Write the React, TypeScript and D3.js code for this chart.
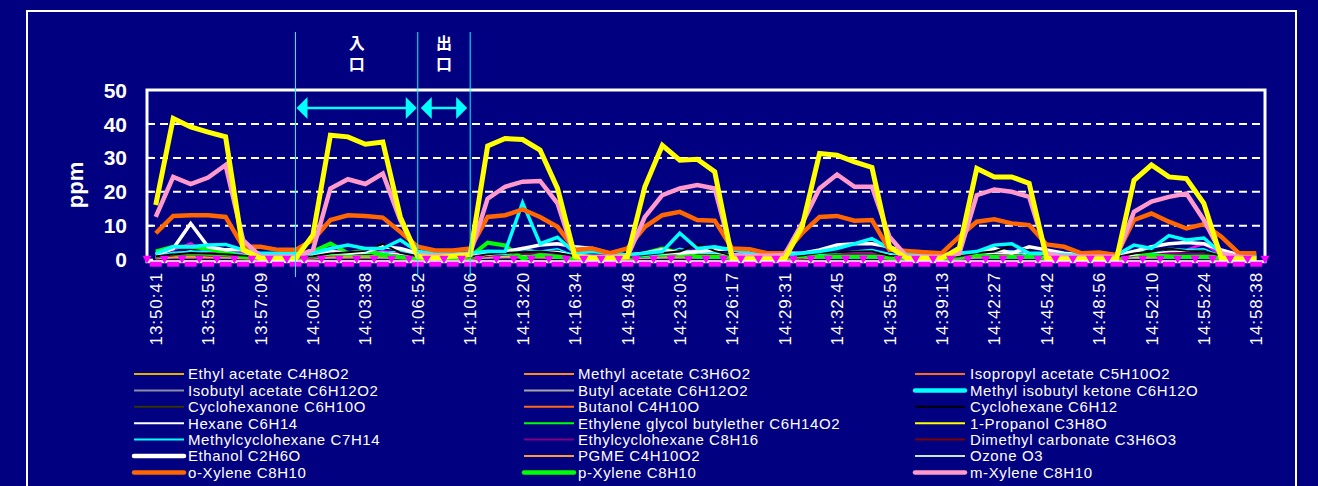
import { useEffect, useRef } from "react"
import * as d3 from "d3"

// x categories: 64 samples, a tick label on every 3rd one
const sampleCount = 64
const tickLabels = [
  "13:50:41", "13:53:55", "13:57:09", "14:00:23", "14:03:38", "14:06:52",
  "14:10:06", "14:13:20", "14:16:34", "14:19:48", "14:23:03", "14:26:17",
  "14:29:31", "14:32:45", "14:35:59", "14:39:13", "14:42:27", "14:45:42",
  "14:48:56", "14:52:10", "14:55:24", "14:58:38",
]
const yTicks = [0, 10, 20, 30, 40, 50]

// entrance / exit markers (sample index)
const markerIdx = [8, 15, 18]
const markerText = ["入口", "出口"]

const ethylAcetate = [0.4,0.7,0.8,0.7,0.7,0.4,0.2,0.2,0.2,0.4,0.7,0.8,0.7,0.7,0.5,0.2,0.2,0.2,0.3,0.7,0.8,0.8,0.7,0.6,0.2,0.2,0.2,0.3,0.6,0.7,0.8,0.7,0.7,0.3,0.2,0.2,0.2,0.4,0.7,0.8,0.7,0.7,0.3,0.2,0.2,0.2,0.3,0.7,0.7,0.8,0.7,0.3,0.2,0.2,0.2,0.2,0.6,0.7,0.8,0.7,0.6,0.3,0.2,0.2]
const methylAcetate = [0.6,1.0,1.1,1.0,0.9,0.5,0.3,0.3,0.3,0.6,1.0,1.1,1.0,1.0,0.6,0.3,0.3,0.3,0.4,1.0,1.1,1.2,1.0,0.8,0.3,0.3,0.3,0.4,0.8,1.0,1.1,1.0,0.9,0.3,0.3,0.3,0.3,0.6,1.0,1.0,1.0,0.9,0.4,0.3,0.3,0.3,0.4,0.9,1.0,1.0,0.9,0.4,0.3,0.3,0.3,0.3,0.8,1.0,1.0,0.9,0.8,0.4,0.3,0.3]
const isopropylAcetate = [0.3,0.5,0.6,0.5,0.5,0.3,0.2,0.2,0.2,0.3,0.5,0.6,0.5,0.5,0.3,0.2,0.2,0.2,0.2,0.5,0.6,0.6,0.5,0.4,0.2,0.2,0.2,0.2,0.4,0.5,0.6,0.5,0.5,0.2,0.2,0.2,0.2,0.3,0.5,0.5,0.5,0.5,0.2,0.2,0.2,0.2,0.3,0.5,0.5,0.5,0.5,0.2,0.2,0.2,0.2,0.2,0.4,0.5,0.5,0.5,0.4,0.2,0.2,0.2]
const isobutylAcetate = [0.5,0.9,1.2,0.9,0.8,0.5,0.3,0.3,0.3,0.4,0.8,0.9,0.9,0.8,0.5,0.3,0.3,0.3,0.3,0.8,0.9,1.0,0.9,0.7,0.3,0.3,0.3,0.3,0.6,0.8,0.9,0.8,0.8,0.3,0.3,0.3,0.3,0.5,0.8,0.9,0.8,0.8,0.4,0.3,0.3,0.3,0.3,0.8,0.8,0.8,0.8,0.3,0.3,0.3,0.3,0.3,0.7,0.8,0.8,0.8,0.7,0.3,0.3,0.3]
const butylAcetate = [0.4,0.7,0.9,0.7,0.6,0.4,0.2,0.2,0.2,0.3,0.6,0.7,0.7,0.6,0.4,0.2,0.2,0.2,0.2,0.6,0.7,0.8,0.7,0.5,0.2,0.2,0.2,0.2,0.5,0.6,0.7,0.6,0.6,0.2,0.2,0.2,0.2,0.4,0.6,0.7,0.6,0.6,0.3,0.2,0.2,0.2,0.2,0.6,0.6,0.6,0.6,0.2,0.2,0.2,0.2,0.2,0.5,0.6,0.6,0.6,0.5,0.2,0.2,0.2]
const mibk = [1.8,3.8,3.8,4.3,4.5,2.9,1.9,1.9,1.9,2.0,3.3,4.3,3.3,3.3,5.8,2.4,1.9,1.9,1.9,2.5,2.4,16.8,4.7,6.6,1.9,2.4,1.9,1.4,1.9,2.4,7.8,3.3,3.8,2.9,1.9,1.4,1.4,1.9,2.4,3.3,4.7,6.2,3.3,1.9,1.4,1.4,1.9,2.4,4.3,4.7,1.9,1.9,1.4,1.4,1.4,1.4,4.3,3.3,7.1,5.8,6.4,1.9,0.9,0.9]
const cyclohexanone = [0.6,1.1,1.4,1.1,1.0,0.6,0.4,0.4,0.4,0.6,1.0,1.1,1.1,1.0,0.6,0.4,0.4,0.4,0.4,1.0,1.1,1.2,1.1,0.9,0.4,0.4,0.4,0.4,0.8,1.0,1.1,1.0,1.0,0.4,0.4,0.4,0.4,0.6,1.0,1.1,1.0,1.0,0.5,0.4,0.4,0.4,0.4,1.0,1.0,1.0,1.0,0.4,0.4,0.4,0.4,0.4,0.9,1.0,1.0,1.0,0.9,0.4,0.4,0.4]
const butanol = [0.8,1.3,1.5,1.4,1.3,0.7,0.5,0.5,0.5,0.8,1.3,1.4,1.4,1.3,0.8,0.5,0.5,0.5,0.6,1.3,1.4,1.5,1.4,1.1,0.5,0.5,0.5,0.6,1.1,1.3,1.4,1.3,1.2,0.5,0.5,0.5,0.5,0.8,1.3,1.3,1.3,1.2,0.6,0.5,0.5,0.5,0.6,1.2,1.3,1.3,1.2,0.6,0.5,0.5,0.5,0.5,1.1,1.3,1.3,1.2,1.1,0.6,0.5,0.5]
const cyclohexane = [1.0,1.5,2.0,1.8,1.6,1.2,0.8,0.8,0.8,1.0,1.8,2.2,2.6,4.7,2.0,1.0,0.8,0.8,0.8,1.6,2.0,2.2,2.4,2.0,1.0,0.8,0.8,0.8,1.4,2.0,2.4,4.5,2.6,1.2,0.8,0.8,0.8,1.2,2.0,2.2,2.4,2.4,1.2,0.8,0.8,0.8,1.0,2.0,2.4,4.2,2.6,1.2,0.8,0.8,0.8,0.8,1.8,2.4,3.3,2.6,2.4,1.2,0.8,0.8]
const hexane = [1.0,1.6,2.2,1.8,1.6,1.2,0.8,0.8,0.8,1.0,1.6,1.8,1.9,2.2,1.6,0.9,0.8,0.8,0.8,1.4,1.8,2.2,2.6,2.4,1.6,1.2,0.8,0.8,1.2,1.6,1.8,2.0,2.0,1.4,0.8,0.8,0.8,1.0,1.6,2.2,2.4,2.4,1.6,0.8,0.8,0.8,1.0,1.6,2.0,1.8,2.0,1.4,0.8,0.8,0.8,0.8,1.4,2.0,2.4,2.6,2.4,1.2,0.8,0.8]
const egbe = [0.8,1.4,1.6,1.4,1.2,0.6,0.4,0.4,0.4,0.8,1.4,1.2,1.2,1.0,0.6,0.4,0.4,0.4,0.5,1.4,1.6,1.0,1.0,0.8,0.4,0.4,0.4,0.4,0.9,1.2,1.0,0.9,0.9,0.4,0.4,0.4,0.4,0.7,1.0,1.0,0.9,0.9,0.5,0.4,0.4,0.4,0.5,1.0,0.9,0.9,0.9,0.4,0.4,0.4,0.4,0.4,1.2,1.0,0.9,0.9,0.8,0.5,0.4,0.4]
const propanol = [16.1,41.6,39.1,37.6,36.2,2.9,0.4,0.3,0.3,7.3,36.7,36.2,34.0,34.7,12.6,0.9,0.5,1.0,1.4,33.5,35.7,35.4,32.3,21.0,0.9,0.4,0.4,0.9,21.5,33.7,29.3,29.6,25.9,0.2,0.2,0.2,0.2,9.7,31.3,30.8,28.8,27.2,3.8,0.4,0.4,0.4,3.4,26.9,24.4,24.4,22.5,0.4,0.2,0.2,0.2,0.2,23.4,27.9,24.4,23.9,16.6,0.4,0.2,0.2]
const methylcyclohexane = [1.2,2.2,2.4,2.6,2.4,1.6,1.0,1.0,1.0,1.2,2.0,2.4,2.0,2.0,2.6,1.4,1.0,1.0,1.0,1.8,1.6,3.0,2.6,3.2,1.2,1.2,1.0,0.9,1.2,1.6,3.4,2.0,2.2,1.6,1.0,0.9,0.9,1.2,1.6,2.0,2.6,3.0,1.8,1.0,0.9,0.9,1.2,1.6,2.4,2.6,1.2,1.2,0.9,0.9,0.9,0.9,2.4,2.0,3.4,3.0,3.2,1.2,0.6,0.6]
const ethylcyclohexane = [0.6,1.2,1.6,1.2,1.0,0.7,0.4,0.4,0.4,0.6,1.2,1.4,1.8,2.2,1.0,0.5,0.4,0.4,0.4,1.0,1.4,1.6,1.6,1.2,0.5,0.4,0.4,0.4,0.9,1.2,1.6,2.4,1.8,0.8,0.4,0.4,0.4,0.6,1.2,1.4,1.6,1.6,0.8,0.4,0.4,0.4,0.6,1.2,1.6,2.2,1.6,0.8,0.4,0.4,0.4,0.4,1.0,1.6,2.0,1.8,1.6,0.8,0.4,0.4]
const dimethylCarbonate = [0.8,1.4,2.0,1.6,1.4,1.0,0.6,0.6,0.6,0.8,1.4,1.6,1.6,1.6,1.0,0.6,0.6,0.6,0.6,1.4,1.6,1.8,1.6,1.2,0.6,0.6,0.6,0.6,1.0,1.4,1.6,1.8,1.6,0.8,0.6,0.6,0.6,0.8,1.4,1.6,1.6,1.6,0.8,0.6,0.6,0.6,0.8,1.6,1.8,2.0,1.8,0.8,0.6,0.6,0.6,0.6,1.2,1.8,2.0,1.8,1.6,0.8,0.6,0.6]
const ethanol = [1.4,3.3,10.7,3.8,2.9,2.9,1.4,1.4,1.4,1.4,2.4,1.9,2.4,3.8,3.3,1.9,1.4,1.4,1.4,1.9,2.4,3.3,4.3,4.7,3.8,3.3,1.9,1.4,1.9,2.9,1.9,2.4,2.9,3.3,1.9,1.4,1.9,1.9,2.9,4.3,4.7,4.7,3.8,1.9,1.4,1.4,1.9,2.1,3.3,1.9,3.8,2.9,1.9,1.4,1.4,1.4,2.4,3.8,4.7,5.1,4.7,2.9,1.4,1.4]
const pgme = [0.5,0.8,1.0,0.8,0.8,0.4,0.3,0.3,0.3,0.5,0.8,0.9,0.8,0.8,0.5,0.3,0.3,0.3,0.3,0.8,0.9,0.9,0.8,0.6,0.3,0.3,0.3,0.3,0.6,0.8,0.9,0.8,0.8,0.3,0.3,0.3,0.3,0.5,0.8,0.8,0.8,0.8,0.4,0.3,0.3,0.3,0.4,0.8,0.8,0.8,0.8,0.3,0.3,0.3,0.3,0.3,0.7,0.8,0.8,0.8,0.7,0.4,0.3,0.3]
const ozone = [0.9,1.6,2.6,1.6,1.2,1.0,0.8,0.7,0.7,0.8,1.2,1.3,1.2,1.1,0.9,0.7,0.7,0.7,0.7,1.0,1.2,1.2,1.1,1.0,0.7,0.7,0.7,0.7,0.9,1.0,1.1,1.0,1.0,0.7,0.7,0.7,0.7,0.8,1.0,1.1,1.0,1.0,0.8,0.7,0.7,0.7,0.8,1.0,1.0,1.0,1.0,0.8,0.7,0.7,0.7,0.7,0.9,1.0,1.0,1.0,0.9,0.8,0.7,0.7]
const oXylene = [7.8,12.9,13.1,13.1,12.6,3.8,3.8,2.9,2.9,5.8,11.7,13.1,12.9,12.4,8.2,3.8,2.7,2.7,3.3,12.6,13.1,14.8,12.6,9.7,2.9,3.3,1.9,3.3,9.7,13.1,14.1,11.7,11.5,3.3,3.1,1.9,1.9,7.8,12.6,12.9,11.5,11.7,2.9,2.6,2.2,1.9,6.8,11.2,11.9,10.7,10.2,4.5,3.8,1.9,2.1,1.4,11.7,13.6,11.2,9.2,10.5,6.8,1.9,1.9]
const pXylene = [2.4,3.8,3.8,3.3,1.9,0.9,0.7,0.4,0.9,2.4,4.8,1.9,2.7,1.4,0.7,0.5,0.5,0.5,0.9,5.0,4.2,0.3,1.4,0.9,0.4,0.4,0.4,0.9,1.9,3.3,1.9,0.9,0.9,0.7,0.5,0.5,0.7,1.4,0.9,0.9,0.9,0.9,0.7,0.5,0.5,0.5,0.9,1.4,0.9,0.9,0.9,0.7,0.5,0.5,0.5,0.5,2.4,1.4,0.9,0.9,0.9,0.7,0.5,0.5]
const mXylene = [12.6,24.4,22.3,24.2,27.9,5.8,0.9,0.9,0.9,2.9,21.0,23.7,22.3,25.4,11.7,1.4,1.2,1.2,1.8,18.0,21.5,23.0,23.2,16.6,0.9,0.9,0.9,0.9,12.6,19.0,21.0,22.0,21.0,1.4,1.2,1.2,1.4,10.7,21.0,25.1,21.5,21.5,6.8,0.9,0.9,0.9,1.8,19.0,20.7,20.0,18.5,1.8,0.9,0.9,0.9,0.9,14.1,17.1,18.5,19.5,11.7,1.8,0.9,0.4]
// bright magenta trace (its legend entry is below the visible area)
const magentaTrace = [1.9,2.9,4.8,1.9,1.9,1.9,0.9,0.9,0.9,1.4,2.9,1.9,1.9,2.4,2.1,1.7,1.4,1.4,1.2,0.9,1.9,3.5,1.9,1.9,0.9,0.9,0.4,0.4,1.9,2.1,2.4,2.7,1.9,1.4,0.9,0.9,1.4,1.9,1.9,2.1,2.1,1.9,1.4,0.4,0.4,0.4,0.4,1.9,1.4,1.9,2.4,1.4,0.9,0.9,0.9,0.9,1.4,1.9,1.9,2.9,4.7,1.4,0.4,0.4]

interface Series {
  name: string
  values: number[]
  color: string
  width: number
  legendWidth: number
}

// legend order (row by row, 3 columns)
const series: Series[] = [
  { name: "Ethyl acetate C4H8O2", values: ethylAcetate, color: "#e6b000", width: 1.5, legendWidth: 2 },
  { name: "Methyl acetate C3H6O2", values: methylAcetate, color: "#ff8c1a", width: 1.5, legendWidth: 2 },
  { name: "Isopropyl acetate C5H10O2", values: isopropylAcetate, color: "#ff6a1a", width: 1.5, legendWidth: 2 },
  { name: "Isobutyl acetate C6H12O2", values: isobutylAcetate, color: "#8c8ca8", width: 1.5, legendWidth: 2 },
  { name: "Butyl acetate C6H12O2", values: butylAcetate, color: "#a6a6a6", width: 1.5, legendWidth: 2 },
  { name: "Methyl isobutyl ketone C6H12O", values: mibk, color: "#00ffff", width: 3.5, legendWidth: 4.5 },
  { name: "Cyclohexanone C6H10O", values: cyclohexanone, color: "#333300", width: 1.5, legendWidth: 2 },
  { name: "Butanol C4H10O", values: butanol, color: "#ff6a1a", width: 1.5, legendWidth: 2 },
  { name: "Cyclohexane C6H12", values: cyclohexane, color: "#000000", width: 2, legendWidth: 2 },
  { name: "Hexane C6H14", values: hexane, color: "#ffffff", width: 1.5, legendWidth: 2 },
  { name: "Ethylene glycol butylether C6H14O2", values: egbe, color: "#00ff00", width: 1.5, legendWidth: 2 },
  { name: "1-Propanol C3H8O", values: propanol, color: "#ffff00", width: 5, legendWidth: 2 },
  { name: "Methylcyclohexane C7H14", values: methylcyclohexane, color: "#00ffff", width: 1.5, legendWidth: 2 },
  { name: "Ethylcyclohexane C8H16", values: ethylcyclohexane, color: "#800080", width: 1.5, legendWidth: 2 },
  { name: "Dimethyl carbonate C3H6O3", values: dimethylCarbonate, color: "#800000", width: 1.5, legendWidth: 2 },
  { name: "Ethanol C2H6O", values: ethanol, color: "#ffffff", width: 3.5, legendWidth: 4.5 },
  { name: "PGME C4H10O2", values: pgme, color: "#ff9933", width: 1.5, legendWidth: 2 },
  { name: "Ozone O3", values: ozone, color: "#c4e8d4", width: 1.5, legendWidth: 2 },
  { name: "o-Xylene C8H10", values: oXylene, color: "#ff6600", width: 4.5, legendWidth: 4.5 },
  { name: "p-Xylene C8H10", values: pXylene, color: "#00ff00", width: 4, legendWidth: 4.5 },
  { name: "m-Xylene C8H10", values: mXylene, color: "#ff99cc", width: 4.5, legendWidth: 4.5 },
]

// draw thin ones first, bold traces on top
const drawOrder = [
  "Ethyl acetate C4H8O2", "Methyl acetate C3H6O2", "Isopropyl acetate C5H10O2",
  "Isobutyl acetate C6H12O2", "Butyl acetate C6H12O2", "Cyclohexanone C6H10O",
  "Butanol C4H10O", "PGME C4H10O2", "Ozone O3", "Dimethyl carbonate C3H6O3",
  "Ethylcyclohexane C8H16", "Ethylene glycol butylether C6H14O2", "Hexane C6H14",
  "Methylcyclohexane C7H14", "p-Xylene C8H10", "Ethanol C2H6O", "Cyclohexane C6H12",
  "Methyl isobutyl ketone C6H12O", "o-Xylene C8H10", "m-Xylene C8H10", "1-Propanol C3H8O",
]

const W = 1318
const H = 486
const BG = "#000080"
const FONT = "'Liberation Sans', Arial, sans-serif"

export default function App() {
  const svgRef = useRef<SVGSVGElement>(null)

  useEffect(() => {
    if (!svgRef.current) return
    document.body.style.margin = "0"
    document.body.style.background = BG

    const svg = d3.select(svgRef.current)
    svg.selectAll("*").remove()

    const plot = { left: 147, right: 1265, top: 90, bottom: 259.7 }

    const x = d3
      .scalePoint<number>()
      .domain(d3.range(sampleCount))
      .range([plot.left, plot.right])
      .padding(0.5)
    const xs = (i: number) => x(i) as number
    const step = x.step()

    const y = d3.scaleLinear().domain([0, 50]).range([plot.bottom, plot.top])

    svg.append("rect").attr("width", W).attr("height", H).attr("fill", BG)

    // outer frame
    svg
      .append("rect")
      .attr("x", 27)
      .attr("y", 11)
      .attr("width", 1269)
      .attr("height", 520)
      .attr("fill", "none")
      .attr("stroke", "white")
      .attr("stroke-width", 2)

    // dashed grid
    svg
      .append("g")
      .selectAll("line")
      .data(yTicks.filter((t) => t > 0 && t < 50))
      .enter()
      .append("line")
      .attr("x1", plot.left)
      .attr("x2", plot.right)
      .attr("y1", (d) => y(d))
      .attr("y2", (d) => y(d))
      .attr("stroke", "white")
      .attr("stroke-width", 2)
      .attr("stroke-dasharray", "8,5")

    // left ticks
    svg
      .append("g")
      .selectAll("line")
      .data(yTicks)
      .enter()
      .append("line")
      .attr("x1", plot.left)
      .attr("x2", plot.left + 6)
      .attr("y1", (d) => y(d))
      .attr("y2", (d) => y(d))
      .attr("stroke", "white")
      .attr("stroke-width", 2)

    // y tick labels
    svg
      .append("g")
      .selectAll("text")
      .data(yTicks)
      .enter()
      .append("text")
      .attr("x", 127)
      .attr("y", (d) => y(d))
      .attr("dy", "0.36em")
      .attr("text-anchor", "end")
      .style("font-family", FONT)
      .style("font-weight", "bold")
      .style("font-size", "21px")
      .style("fill", "white")
      .text((d) => d)

    svg
      .append("text")
      .attr("transform", "translate(75,185) rotate(-90)")
      .attr("dy", "0.35em")
      .attr("text-anchor", "middle")
      .style("font-family", FONT)
      .style("font-weight", "bold")
      .style("font-size", "22px")
      .style("fill", "white")
      .text("ppm")

    // series lines
    const line = d3
      .line<number>()
      .x((_, i) => xs(i))
      .y((d) => y(d))

    const byName = new Map(series.map((s) => [s.name, s]))
    const lines = svg.append("g")
    lines
      .append("path")
      .datum(magentaTrace)
      .attr("fill", "none")
      .attr("stroke", "#ff00ff")
      .attr("stroke-width", 2.5)
      .attr("d", line)
    drawOrder.forEach((name) => {
      const s = byName.get(name)!
      lines
        .append("path")
        .datum(s.values)
        .attr("fill", "none")
        .attr("stroke", s.color)
        .attr("stroke-width", s.width)
        .attr("d", line)
    })

    // plot border
    svg
      .append("rect")
      .attr("x", plot.left)
      .attr("y", plot.top)
      .attr("width", plot.right - plot.left)
      .attr("height", plot.bottom - plot.top + 2)
      .attr("fill", "none")
      .attr("stroke", "white")
      .attr("stroke-width", 3)

    // magenta baseline markers: squares on samples, down-triangles between
    const base = svg.append("g").attr("fill", "#ff00ff")
    const b0 = y(0)
    base
      .selectAll("path.tri")
      .data(d3.range(sampleCount + 1))
      .enter()
      .append("path")
      .attr("class", "tri")
      .attr("d", (i) => {
        const m = xs(0) + (i - 0.5) * step
        return `M${m - 4.5},${b0 - 4}L${m + 4.5},${b0 - 4}L${m},${b0 + 4}Z`
      })
    base
      .selectAll("rect")
      .data(d3.range(sampleCount))
      .enter()
      .append("rect")
      .attr("x", (i) => xs(i) - 6)
      .attr("y", b0 + 2)
      .attr("width", 12)
      .attr("height", 5)

    // time labels
    svg
      .append("g")
      .selectAll("text")
      .data(tickLabels)
      .enter()
      .append("text")
      .attr("transform", (_, k) => `translate(${xs(k * 3)},272) rotate(-90)`)
      .attr("dy", "0.36em")
      .attr("text-anchor", "end")
      .style("font-family", FONT)
      .style("font-size", "17px")
      .style("letter-spacing", "0.9px")
      .style("fill", "white")
      .text((d) => d)

    // entrance / exit annotation
    const ann = svg.append("g")
    const mx = markerIdx.map((i) => xs(i))
    mx.forEach((v) => {
      ann
        .append("line")
        .attr("x1", v)
        .attr("x2", v)
        .attr("y1", 32)
        .attr("y2", 277)
        .attr("stroke", "#00ffff")
        .attr("stroke-width", 1)
    })
    const arrowY = 108
    const arrow = (a: number, b: number) => {
      ann
        .append("line")
        .attr("x1", a + 8)
        .attr("x2", b - 8)
        .attr("y1", arrowY)
        .attr("y2", arrowY)
        .attr("stroke", "#00ffff")
        .attr("stroke-width", 2.5)
      ann
        .append("path")
        .attr("d", `M${a},${arrowY}L${a + 11},${arrowY - 11}L${a + 11},${arrowY + 11}Z`)
        .attr("fill", "#00ffff")
      ann
        .append("path")
        .attr("d", `M${b},${arrowY}L${b - 11},${arrowY - 11}L${b - 11},${arrowY + 11}Z`)
        .attr("fill", "#00ffff")
    }
    arrow(mx[0] + 1, mx[1] - 1)
    arrow(mx[1] + 3, mx[2] - 3)

    // vertical labels, one text each
    markerText.forEach((t, k) => {
      ann
        .append("text")
        .attr("x", (mx[k] + mx[k + 1]) / 2)
        .attr("y", 56)
        .attr("text-anchor", "middle")
        .style("writing-mode", "vertical-rl")
        .style("font-family", "'Noto Sans CJK JP', sans-serif")
        .style("font-weight", "bold")
        .style("font-size", "16px")
        .style("letter-spacing", "5px")
        .style("fill", "white")
        .text(t)
    })

    // legend
    const colLine = [134, 524, 915]
    const colText = [188, 578, 970]
    const leg = svg.append("g")
    series.forEach((s, i) => {
      const r = Math.floor(i / 3)
      const c = i % 3
      const ly = 374 + r * 16.4
      leg
        .append("line")
        .attr("x1", colLine[c])
        .attr("x2", colLine[c] + 50)
        .attr("y1", ly)
        .attr("y2", ly)
        .attr("stroke", s.color)
        .attr("stroke-width", s.legendWidth)
        .attr("stroke-linecap", s.legendWidth > 3 ? "round" : "butt")
      leg
        .append("text")
        .attr("x", colText[c])
        .attr("y", ly)
        .attr("dy", "0.36em")
        .style("font-family", FONT)
        .style("font-size", "15px")
        .style("letter-spacing", "0.6px")
        .style("fill", "white")
        .text(s.name)
    })
  }, [])

  return (
    <svg
      ref={svgRef}
      width={W}
      height={H}
      style={{ display: "block", position: "fixed", left: 0, top: 0 }}
    ></svg>
  )
}
